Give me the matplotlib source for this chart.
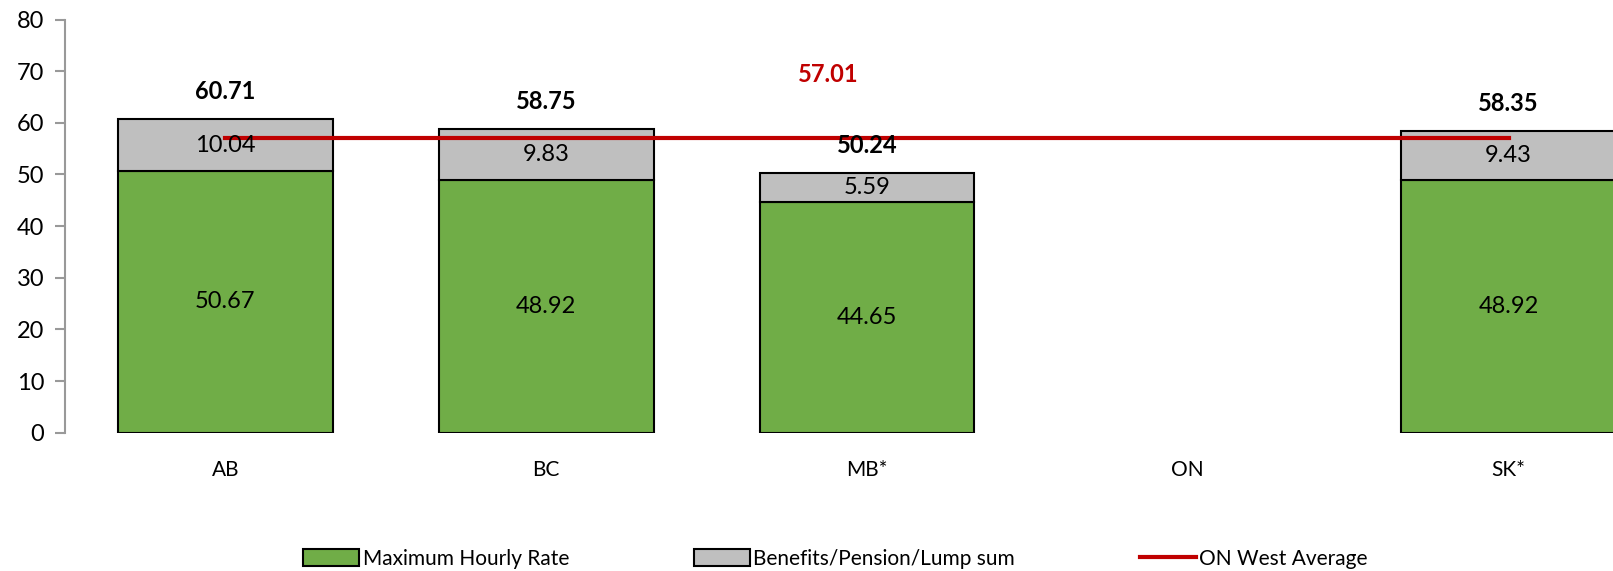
import numpy as np
import matplotlib.pyplot as plt

plt.rcParams['font.family'] = ['Lato', 'DejaVu Sans']

provinces = ['AB', 'BC', 'MB*', 'ON', 'SK*']
hourly = [50.67, 48.92, 44.65, np.nan, 48.92]
benefits = [10.04, 9.83, 5.59, np.nan, 9.43]
totals = [60.71, 58.75, 50.24, np.nan, 58.35]
west_avg = 57.01

green = '#70AD47'
grey = '#BFBFBF'
red = '#C00000'

fig = plt.figure(figsize=(16.13, 5.71), dpi=100)
ax = fig.add_axes([0.0403, 0.2422, 0.9944, 0.7236])

x = np.arange(len(provinces))
hourly_arr = np.array(hourly)
ben_arr = np.array(benefits)

b1 = ax.bar(x, hourly_arr, width=0.67, color=green, edgecolor='black', linewidth=1.5,
            label='Maximum Hourly Rate')
b2 = ax.bar(x, ben_arr, width=0.67, bottom=hourly_arr, color=grey, edgecolor='black',
            linewidth=1.5, label='Benefits/Pension/Lump sum')
ln, = ax.plot([x[0], x[-1]], [west_avg, west_avg], color=red, linewidth=3,
              label='ON West Average')

# segment and total labels
for i in range(len(provinces)):
    if np.isnan(hourly[i]):
        continue
    ax.text(x[i], hourly[i] / 2, f'{hourly[i]:.2f}', ha='center', va='center', fontsize=17)
    ax.text(x[i], hourly[i] + benefits[i] / 2, f'{benefits[i]:.2f}', ha='center',
            va='center', fontsize=17)
    ax.text(x[i], totals[i] + 5.3, f'{totals[i]:.2f}', ha='center', va='center',
            fontsize=17, fontweight='bold')

ax.text(1.88, 69.3, f'{west_avg:.2f}', ha='center', va='center', fontsize=17,
        fontweight='bold', color=red)

ax.set_xlim(-0.5, 4.5)
ax.set_ylim(0, 80)
ax.set_yticks(range(0, 81, 10))
ax.set_xticks(x)
ax.set_xticklabels(provinces)
for s in ['top', 'right', 'bottom']:
    ax.spines[s].set_visible(False)
ax.spines['left'].set_color('#999999')
ax.spines['left'].set_linewidth(1.5)
ax.tick_params(axis='y', colors='#999999', labelcolor='black', labelsize=17,
               length=7, width=1.5, pad=8)
ax.tick_params(axis='x', length=0, labelsize=15, pad=20)

fig.legend([b1, b2, ln], [b1.get_label(), b2.get_label(), ln.get_label()],
           loc='center', bbox_to_anchor=(0.518, 0.021), ncol=3, frameon=False,
           fontsize=15, handlelength=2.7, handleheight=0.9, handletextpad=0.15,
           columnspacing=6.0)

fig.savefig('out.png', dpi=100)
